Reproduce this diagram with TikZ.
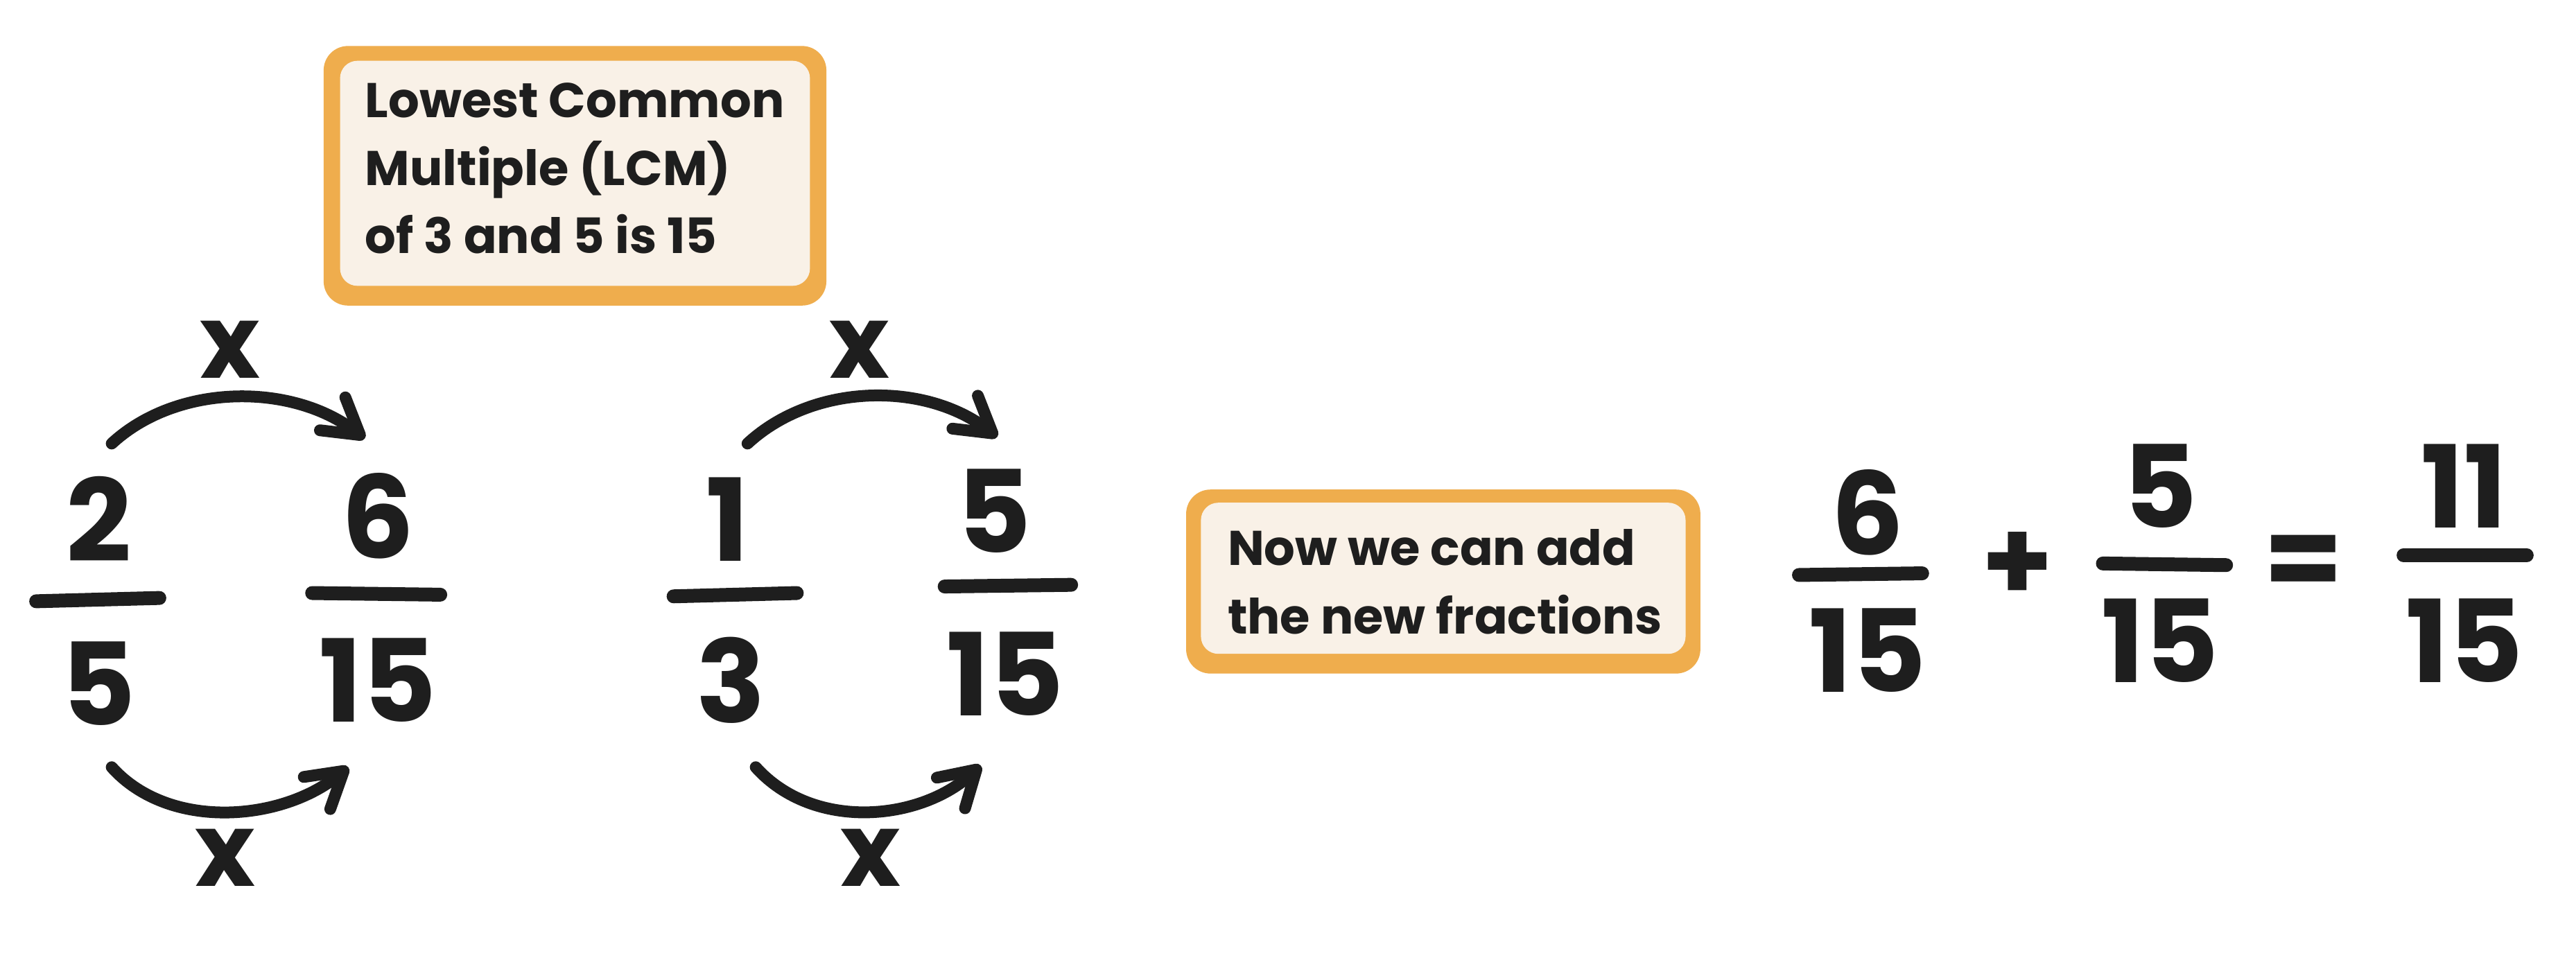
\documentclass[tikz,border=0pt]{standalone}
\usepackage{fontspec}
\setmainfont{Poppins}
\usetikzlibrary{arrows.meta}
\definecolor{boxorange}{HTML}{EFAD4D}
\definecolor{boxcream}{HTML}{F9F1E7}
\definecolor{ink}{HTML}{1E1E1E}
\begin{document}
\begin{tikzpicture}[x=0.0237cm,y=-0.0237cm,
  num/.style={font=\fontsize{47}{47}\selectfont\bfseries, text=ink, inner sep=0},
  fracbar/.style={draw=ink, line width=0.2cm, line cap=round},
  curvearrow/.style={draw=ink, line width=0.17cm, line cap=round, -{Straight Barb[round,length=0.5cm,width=0.6cm]}},
  times/.style={font=\fontsize{42}{42}\selectfont\bfseries, text=ink, inner sep=0},
  note/.style={font=\fontsize{20}{28}\selectfont\bfseries, text=ink, align=left, inner sep=0, anchor=north west},
  outerbox/.style={fill=boxorange, rounded corners=0.35cm},
  innerbox/.style={fill=boxcream, rounded corners=0.25cm},
]
\useasboundingbox[fill=white] (0,0) rectangle (1568,583);

% box 1
\fill[outerbox] (197,28) rectangle (503,186);
\fill[innerbox] (207,37) rectangle (493,174);
\node[note] (lcm) at (222,50) {Lowest Common\\Multiple (LCM)\\of 3 and 5 is 15};

% box 2
\fill[outerbox] (722,298) rectangle (1035,410);
\fill[innerbox] (731,306) rectangle (1026,398);
\node[note] (addnote) at (747,322) {Now we can add\\the new fractions};

% group 1
\node[num] (n2) at (60,316) {2};
\draw[fracbar] (22,366) -- (97,364);
\node[num] (n5a) at (60,416) {5};
\node[num] (n6) at (230,314) {6};
\draw[fracbar] (190,361) -- (268,362);
\node[num] (n15a) at (230,414) {15};
\coordinate (t1s) at (68,270);
\coordinate (t1e) at (222,267);
\coordinate (b1s) at (68,467);
\coordinate (b1e) at (212,467);
\draw[curvearrow] (t1s) .. controls (108,233) and (178,233) .. (t1e);
\draw[curvearrow] (b1s) .. controls (103,506) and (172,500) .. (b1e);
\node[times] (x1t) at (140,213) {x};
\node[times] (x1b) at (137,522) {x};

% group 2
\node[num] (n1) at (443,316) {1};
\draw[fracbar] (410,363) -- (485,361);
\node[num] (n3) at (445,414) {3};
\node[num] (n5b) at (605,311) {5};
\draw[fracbar] (575,357) -- (652,356);
\node[num] (n15b) at (612,410) {15};
\coordinate (t2s) at (455,270);
\coordinate (t2e) at (607,266);
\coordinate (b2s) at (460,467);
\coordinate (b2e) at (597,466);
\draw[curvearrow] (t2s) .. controls (495,233) and (563,232) .. (t2e);
\draw[curvearrow] (b2s) .. controls (495,506) and (560,500) .. (b2e);
\node[times] (x2t) at (523,213) {x};
\node[times] (x2b) at (530,522) {x};

% result
\node[num] (n6c) at (1137,312) {6};
\draw[fracbar] (1095,350) -- (1170,349);
\node[num] (n15c) at (1137,396) {15};
\node[num] (plus) at (1228,345) {+};
\node[num] (n5c) at (1315,296) {5};
\draw[fracbar] (1280,343) -- (1355,344);
\node[num] (n15d) at (1315,390) {15};
\node[num] (eq) at (1402,345) {=};
\node[num] (n11) at (1500,296) {11};
\draw[fracbar] (1463,338) -- (1538,338);
\node[num] (n15e) at (1500,390) {15};
\end{tikzpicture}
\end{document}
